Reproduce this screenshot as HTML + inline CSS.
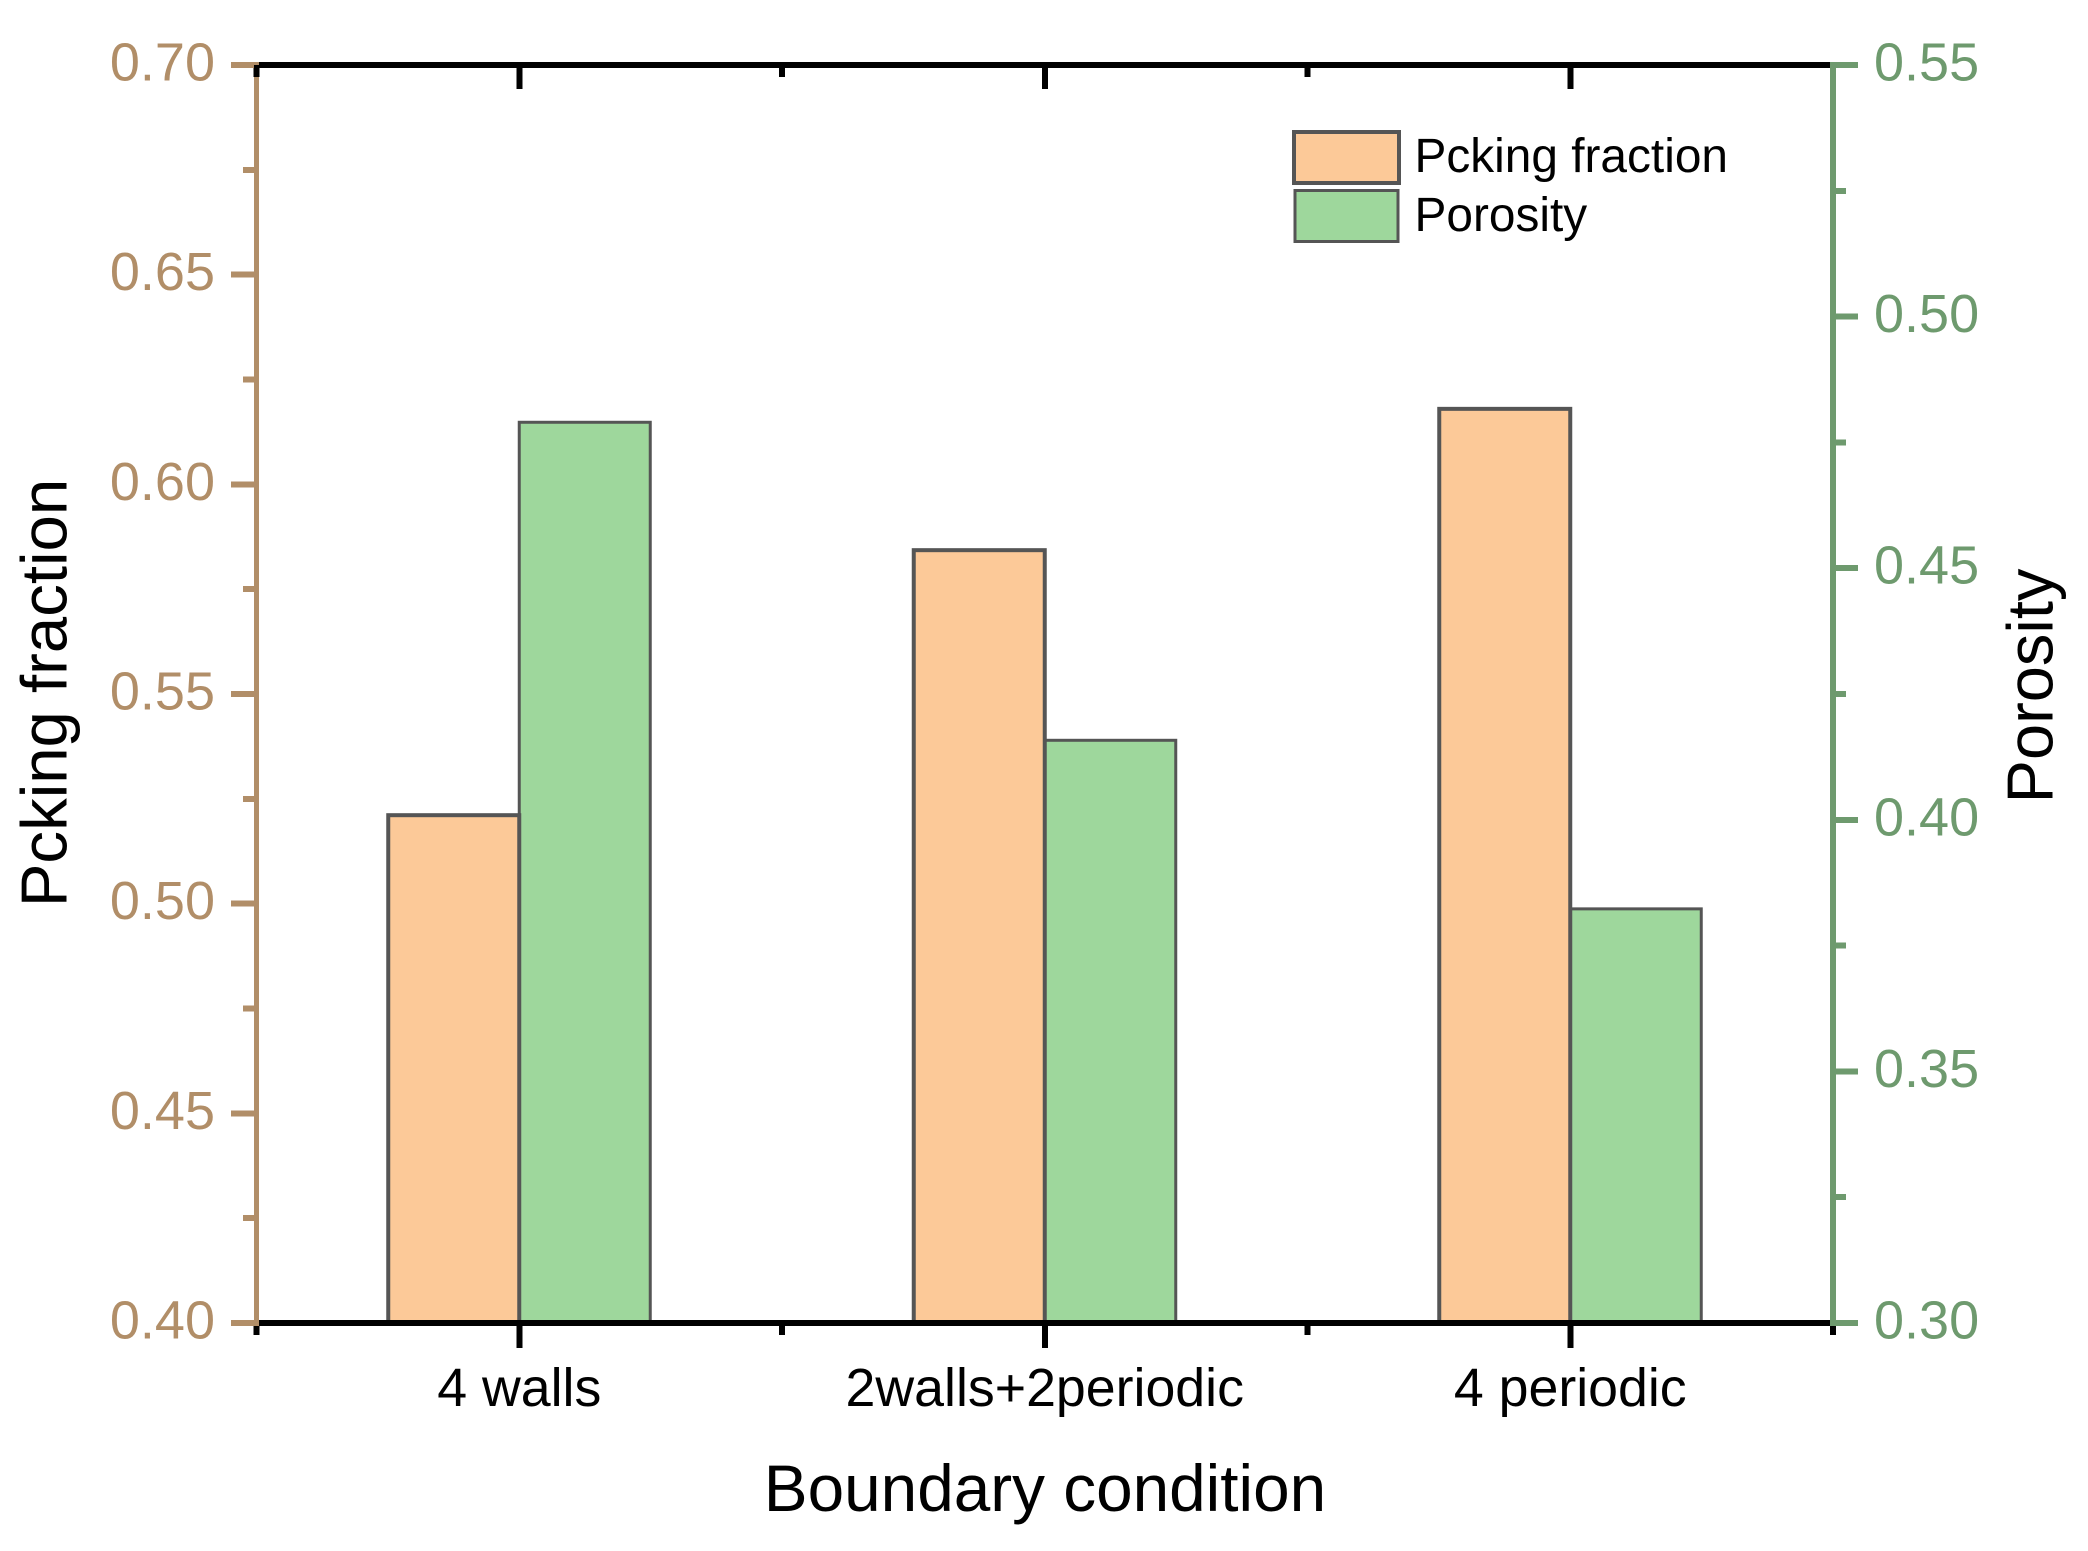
<!DOCTYPE html>
<html lang="en">
<head>
<meta charset="utf-8">
<title>Packing fraction and porosity by boundary condition</title>
<style>
  html, body { margin: 0; padding: 0; background: #fff; }
  svg { display: block; font-family: "Liberation Sans", Arial, sans-serif; }
</style>
</head>
<body>
<svg id="chart" xmlns="http://www.w3.org/2000/svg" width="2088" height="1551" viewBox="0 0 2088 1551">
  <rect x="0" y="0" width="2088" height="1551" fill="#ffffff"/>
  <g id="bars"></g>
  <g id="axes" shape-rendering="crispEdges"></g>
  <g id="labels" font-size="54"></g>

  <text x="1045" y="1511" font-size="65.7" text-anchor="middle" fill="#000">Boundary condition</text>
  <text transform="translate(66.5,693) rotate(-90)" font-size="65.3" text-anchor="middle" fill="#000">Pcking fraction</text>
  <text transform="translate(2052.5,686) rotate(-90)" font-size="65" text-anchor="middle" fill="#000">Porosity</text>

  <g>
    <g>
      <rect x="1294" y="132" width="105" height="51" fill="#fcc998" stroke="#555555" stroke-width="4"/>
      <text x="1414.5" y="172" font-size="47.8" fill="#000">Pcking fraction</text>
    </g>
    <g>
      <rect x="1295" y="190.5" width="103" height="51" fill="#9ed79c" stroke="#555555" stroke-width="3"/>
      <text x="1414.5" y="231" font-size="47.8" fill="#000">Porosity</text>
    </g>
  </g>
</svg>
<script>
// Chart data
const categories = ["4 walls", "2walls+2periodic", "4 periodic"];
const packingFraction = [0.5211, 0.5843, 0.618];
const porosity = [0.479, 0.4158, 0.3823];
const leftTickLabels = ["0.40", "0.45", "0.50", "0.55", "0.60", "0.65", "0.70"];
const rightTickLabels = ["0.30", "0.35", "0.40", "0.45", "0.50", "0.55"];

// Plot frame and axis functions
const plotLeft = 256.5, plotRight = 1833, plotTop = 65, plotBottom = 1323;
const leftMin = 0.40, leftMax = 0.70, rightMin = 0.30, rightMax = 0.55;
const barWidth = 131;
const TAN = "#b18e68", GREEN = "#6e9a6e", BLACK = "#000000", EDGE = "#555555";
const SVGNS = "http://www.w3.org/2000/svg";

function xCat(pos) { return plotLeft + (pos + 0.5) * (plotRight - plotLeft) / categories.length; }
function yLeft(v) { return plotBottom - (v - leftMin) / (leftMax - leftMin) * (plotBottom - plotTop); }
function yRight(v) { return plotBottom - (v - rightMin) / (rightMax - rightMin) * (plotBottom - plotTop); }

function make(parent, tag, props) {
  const el = document.createElementNS(SVGNS, tag);
  for (const k in props) el.setAttribute(k, props[k]);
  parent.appendChild(el);
  return el;
}
function segment(parent, x1, y1, x2, y2, color, width) {
  return make(parent, "line", { x1: x1, y1: y1, x2: x2, y2: y2, stroke: color, "stroke-width": width });
}

const barsG = document.getElementById("bars");
const axesG = document.getElementById("axes");
const labelsG = document.getElementById("labels");

// Bars: porosity first so the packing-fraction outline sits on top
porosity.forEach(function (v, i) {
  const c = xCat(i);
  const y = yRight(v);
  const bar = make(barsG, "rect", { x: c, y: y, width: barWidth, height: plotBottom - y, fill: "#9ed79c", stroke: EDGE, "stroke-width": 3 });
  
  
});
packingFraction.forEach(function (v, i) {
  const c = xCat(i);
  const y = yLeft(v);
  const bar = make(barsG, "rect", { x: c - barWidth, y: y, width: barWidth, height: plotBottom - y, fill: "#fcc998", stroke: EDGE, "stroke-width": 4 });
  
  
});

// Bottom axis and its ticks
const bottomLine = segment(axesG, plotLeft, plotBottom, plotRight, plotBottom, BLACK, 6);



const topLine = segment(axesG, 254, plotTop, 1830, plotTop, BLACK, 6);



// Left axis
const leftLine = segment(axesG, plotLeft, 62, plotLeft, 1326, TAN, 5);



// Right axis
const rightLine = segment(axesG, plotRight, 62, plotRight, 1326, GREEN, 6);



// X ticks: major ticks at each category, minor ticks between
categories.forEach(function (name, i) {
  const x = xCat(i);
  const bt = segment(axesG, x, plotBottom, x, 1348, BLACK, 6);
  
  
  const tt = segment(axesG, x, plotTop, x, 89, BLACK, 6);
  
  
  const label = make(labelsG, "text", { x: x, y: 1406, "text-anchor": "middle", fill: BLACK, "font-size": 53.7 });
  
  
  label.textContent = name;
});
for (let i = 0; i <= categories.length; i++) {
  const x = xCat(i - 0.5);
  const bm = segment(axesG, x, 1326, x, 1335, BLACK, 6);
  
  
  if (i < categories.length) {
    const tm = segment(axesG, x, plotTop, x, 77, BLACK, 6);
    
    
  }
}

// Left ticks and labels
leftTickLabels.forEach(function (t, i) {
  const v = parseFloat(t);
  const y = yLeft(v);
  const major = segment(axesG, 231, y, i === 0 ? 259 : 254, y, TAN, 6);
  
  
  const label = make(labelsG, "text", { x: 215, y: y + 15.5, "text-anchor": "end", fill: TAN });
  
  
  label.textContent = t;
  if (i < leftTickLabels.length - 1) {
    const next = parseFloat(leftTickLabels[i + 1]);
    const ym = yLeft((v + next) / 2);
    const minor = segment(axesG, 243, ym, 254, ym, TAN, 6);
    
    
  }
});

// Right ticks and labels
rightTickLabels.forEach(function (t, i) {
  const v = parseFloat(t);
  const y = yRight(v);
  const major = segment(axesG, 1830, y, 1858, y, GREEN, 6);
  
  
  const label = make(labelsG, "text", { x: 1874, y: y + 15.5, "text-anchor": "start", fill: GREEN });
  
  
  label.textContent = t;
  if (i < rightTickLabels.length - 1) {
    const next = parseFloat(rightTickLabels[i + 1]);
    const ym = yRight((v + next) / 2);
    const minor = segment(axesG, 1836, ym, 1846, ym, GREEN, 6);
    
    
  }
});
</script>
</body>
</html>
